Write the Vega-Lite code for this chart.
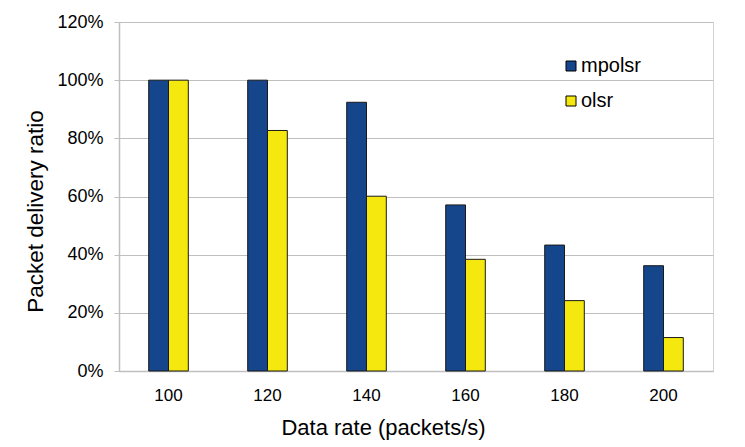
{
  "$schema": "https://vega.github.io/schema/vega-lite/v6.json",
  "autosize": "none",
  "width": 594,
  "height": 349,
  "padding": {"left": 119, "top": 22, "right": 32, "bottom": 76},
  "background": "white",
  "config": {
    "font": "Liberation Sans",
    "view": {"stroke": "#d4d4d4", "strokeWidth": 1}
  },
  "data": {
    "values": [
      {"rate": "100", "protocol": "mpolsr", "pdr": 1.0},
      {"rate": "100", "protocol": "olsr", "pdr": 1.0},
      {"rate": "120", "protocol": "mpolsr", "pdr": 1.0},
      {"rate": "120", "protocol": "olsr", "pdr": 0.827},
      {"rate": "140", "protocol": "mpolsr", "pdr": 0.924},
      {"rate": "140", "protocol": "olsr", "pdr": 0.601},
      {"rate": "160", "protocol": "mpolsr", "pdr": 0.571},
      {"rate": "160", "protocol": "olsr", "pdr": 0.384},
      {"rate": "180", "protocol": "mpolsr", "pdr": 0.433},
      {"rate": "180", "protocol": "olsr", "pdr": 0.242},
      {"rate": "200", "protocol": "mpolsr", "pdr": 0.362},
      {"rate": "200", "protocol": "olsr", "pdr": 0.115}
    ]
  },
  "mark": {"type": "bar", "stroke": "#1a1a1a", "strokeWidth": 1},
  "encoding": {
    "x": {
      "field": "rate",
      "type": "nominal",
      "sort": null,
      "scale": {"paddingInner": 0.6, "paddingOuter": 0.3},
      "axis": {
        "title": "Data rate (packets/s)",
        "titleFontSize": 22,
        "titleFontWeight": "normal",
        "titleColor": "#000",
        "titlePadding": 14,
        "titleX": 264,
        "labelAngle": 0,
        "labelFontSize": 17,
        "labelColor": "#000",
        "labelPadding": 16,
        "ticks": false,
        "domainColor": "#bfbfbf",
        "domainWidth": 1.5,
        "grid": false
      }
    },
    "xOffset": {"field": "protocol", "type": "nominal", "sort": ["mpolsr", "olsr"], "scale": {"paddingInner": 0, "paddingOuter": 0}},
    "y": {
      "field": "pdr",
      "type": "quantitative",
      "scale": {"domain": [0, 1.2], "nice": false},
      "axis": {
        "title": "Packet delivery ratio",
        "titleFontSize": 22.5,
        "titleFontWeight": "normal",
        "titleColor": "#000",
        "titlePadding": 9,
        "titleY": 189,
        "values": [0, 0.2, 0.4, 0.6, 0.8, 1.0, 1.2],
        "format": ".0%",
        "labelFontSize": 18,
        "labelColor": "#000",
        "labelPadding": 11,
        "tickSize": 5,
        "tickColor": "#bfbfbf",
        "domainColor": "#bfbfbf",
        "domainWidth": 1.5,
        "gridColor": "#bfbfbf",
        "gridWidth": 1
      }
    },
    "color": {
      "field": "protocol",
      "type": "nominal",
      "scale": {"domain": ["mpolsr", "olsr"], "range": ["#15458A", "#F4E80E"]},
      "legend": {
        "orient": "none",
        "legendX": 442,
        "legendY": 34,
        "title": null,
        "labelFontSize": 20,
        "labelColor": "#000",
        "labelOffset": 0,
        "symbolType": "square",
        "symbolSize": 100,
        "symbolStrokeColor": "#000",
        "symbolStrokeWidth": 1,
        "rowPadding": 15
      }
    }
  }
}
